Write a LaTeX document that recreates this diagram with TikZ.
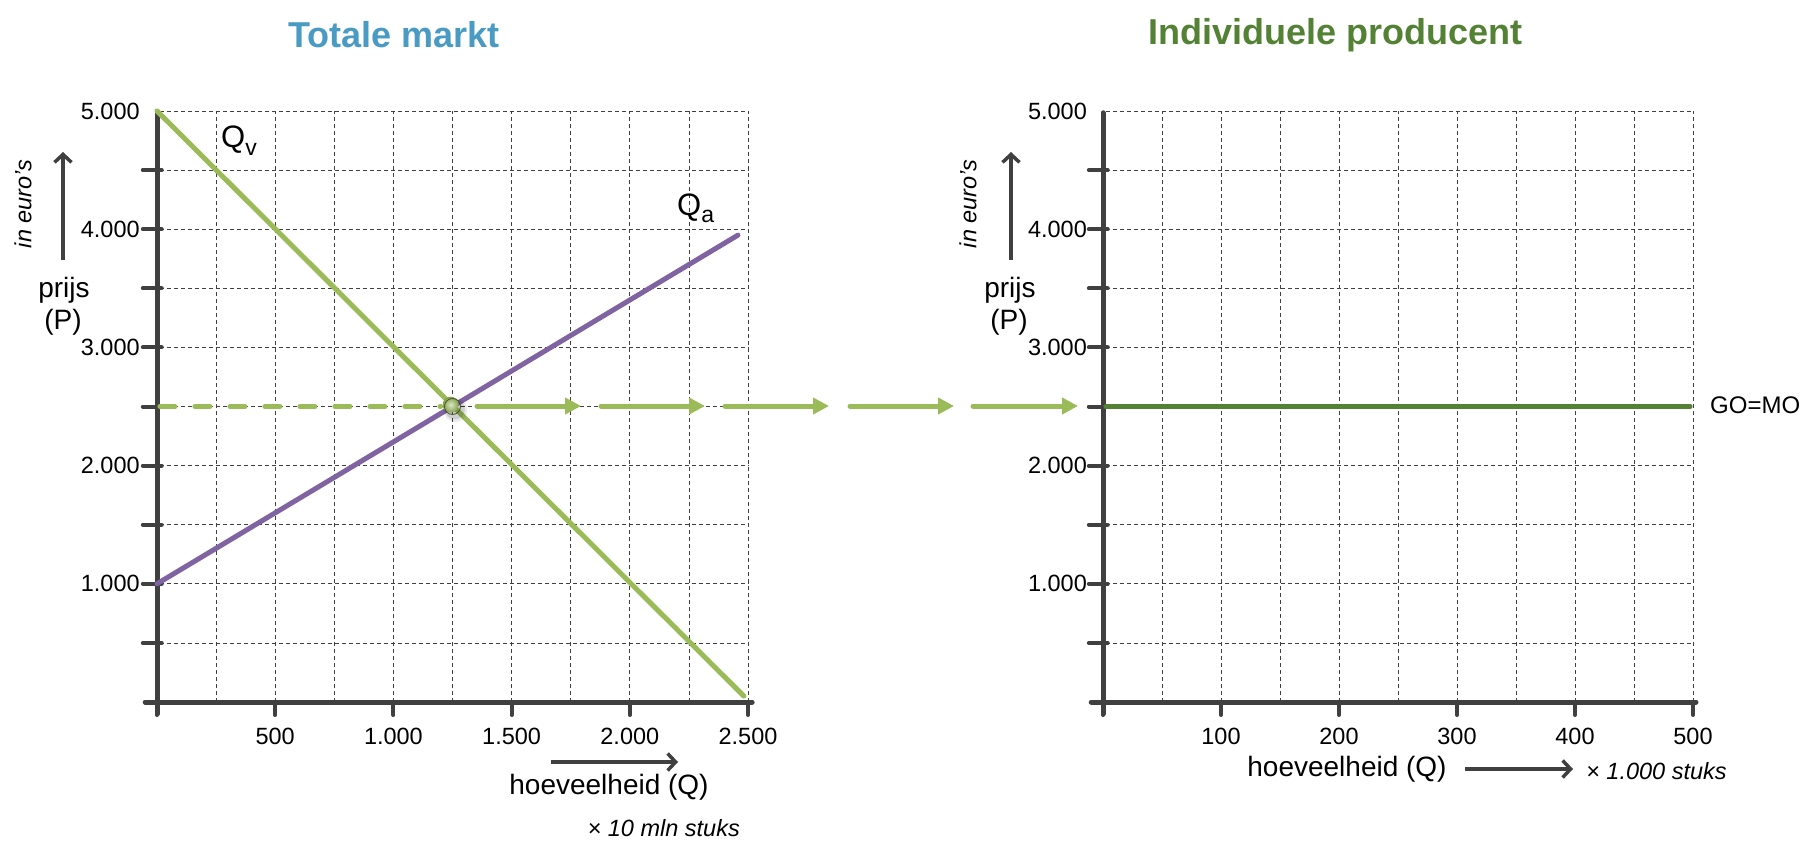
\documentclass[tikz,border=0pt]{standalone}
\usepackage{fontspec}
\setmainfont{Liberation Sans}
\usetikzlibrary{arrows.meta}
\definecolor{axisgray}{HTML}{404040}
\definecolor{lgreen}{HTML}{9BBB59}
\definecolor{purp}{HTML}{8064A2}
\definecolor{dgreen}{HTML}{548235}
\definecolor{tblue}{HTML}{4A9BC3}
\newcommand\fsz[1]{\fontsize{#1}{#1}\selectfont}
\begin{document}
\begin{tikzpicture}[x=1pt,y=-1pt,
  gridline/.style={axisgray, line width=0.8pt, dash pattern=on 4pt off 3pt},
  axisline/.style={axisgray, line width=5pt, line cap=round},
  tickline/.style={axisgray, line width=4pt, line cap=round},
  ticklabel/.style={font=\fsz{23.5}, text=black, inner sep=0pt},
  axtitle/.style={font=\fsz{28}, text=black, inner sep=0pt},
  unitlabel/.style={font=\fsz{23.5}\itshape, text=black, inner sep=0pt},
  dirarrow/.style={axisgray, line width=3.5pt, -{Straight Barb[length=8pt,width=17pt]}},
  flowarrow/.style={lgreen, line width=5pt, line cap=round, -{Triangle[length=16pt,width=16pt]}},
  curve/.style={line width=5pt, line cap=round},
  maintitle/.style={font=\fsz{36}\bfseries, inner sep=0pt},
  qlabel/.style={font=\fsz{31}, text=black, inner sep=0pt, anchor=base west}
]
\useasboundingbox (0,0) rectangle (1820,858);
\fill[white] (0,0) rectangle (1820,858);

% titles
\node[maintitle, text=tblue] (t1) at (394,35) {Totale markt};
\node[maintitle, text=dgreen] (t2) at (1335,35) {Individuele producent};

% ---------------- left chart ----------------
\begin{scope}[shift={(157,702)}, x=59.1pt, y=59.1pt]
  \foreach \i in {1,...,10} \draw[gridline] (\i,0) -- (\i,10);
  \foreach \j in {1,...,10} \draw[gridline] (0.05,\j) -- (10,\j);
  \foreach \j in {1,...,9} \draw[tickline] (-0.24,\j) -- (0.08,\j);
  \foreach \i in {0,2,...,10} \draw[tickline] (\i,0) -- (\i,-0.22);
  \draw[axisline] (-0.2,0) -- (10.07,0);
  \draw[axisline] (0,-0.2) -- (0,9.97);
  \foreach \j/\t in {2/1.000,4/2.000,6/3.000,8/4.000,10/5.000}
    \node[ticklabel, anchor=east] (ly\j) at (-0.29,\j) {\t};
  \foreach \i/\t in {2/500,4/1.000,6/1.500,8/2.000,10/2.500}
    \node[ticklabel] (lx\i) at (\i,-0.59) {\t};
  % curves
  \draw[curve, lgreen] (0,10) -- (9.93,0.1);
  \draw[curve, purp] (0,2) -- (9.83,7.9);
  \draw[lgreen, line width=5pt, line cap=round, dash pattern=on 15pt off 20pt] (0.05,5) -- (4.8,5);
  % equilibrium dot
  \fill[black, opacity=0.08] (5.05,4.94) circle (12pt);
  \fill[black, opacity=0.12] (5.04,4.95) circle (10pt);
  \shade[inner color=lgreen!35!white, outer color=lgreen!85!black] (4.97,5.03) circle (8pt);
  \draw[lgreen!45!black, line width=0.8pt] (5,5) circle (8pt);
  \coordinate (eq) at (5,5);
\end{scope}

% left axis labels
\node[axtitle] (lp1) at (64,290) {prijs};
\node[axtitle] (lp2) at (63,322) {(P)};
\coordinate (lua) at (63,260);
\coordinate (lub) at (63,152);
\draw[dirarrow] (lua) -- (lub);
\node[unitlabel, rotate=90] (leur) at (23,204) {in euro’s};
\node[axtitle] (lq) at (609,787) {hoeveelheid (Q)};
\coordinate (lqa) at (551,762);
\coordinate (lqb) at (678,762);
\draw[dirarrow] (lqa) -- (lqb);
\node[unitlabel, anchor=east] (lunit) at (740,828) {× 10 mln stuks};
\node[qlabel] (qv) at (221,148) {Q\raisebox{-8pt}{\fsz{23}v}};
\node[qlabel] (qa) at (677,216) {Q\raisebox{-7pt}{\fsz{23}a}};

% flow arrows
\foreach \s/\e [count=\n] in {477/581, 601/705, 725/829, 850/954, 973/1078} {
  \coordinate (fa\n) at (\s,406);
  \coordinate (fb\n) at (\e,406);
  \draw[flowarrow] (fa\n) -- (fb\n);
}

% ---------------- right chart ----------------
\begin{scope}[shift={(1103,702)}, x=59pt, y=59.1pt]
  \foreach \i in {1,...,10} \draw[gridline] (\i,0) -- (\i,10);
  \foreach \j in {1,...,10} \draw[gridline] (0.05,\j) -- (10,\j);
  \foreach \j in {1,...,9} \draw[tickline] (-0.24,\j) -- (0.08,\j);
  \foreach \i in {0,2,...,10} \draw[tickline] (\i,0) -- (\i,-0.22);
  \draw[axisline] (-0.2,0) -- (10.05,0);
  \draw[axisline] (0,-0.2) -- (0,9.97);
  \foreach \j/\t in {2/1.000,4/2.000,6/3.000,8/4.000,10/5.000}
    \node[ticklabel, anchor=east] (ry\j) at (-0.27,\j) {\t};
  \foreach \i/\t in {2/100,4/200,6/300,8/400,10/500}
    \node[ticklabel] (rx\i) at (\i,-0.59) {\t};
  \draw[curve, dgreen] (0.05,5) -- (9.95,5);
  \coordinate (goend) at (9.95,5);
\end{scope}
\node[font=\fsz{24}, text=black, inner sep=0pt, anchor=west] (gomo) at (1710,405) {GO=MO};

% right axis labels
\node[axtitle] (rp1) at (1010,290) {prijs};
\node[axtitle] (rp2) at (1009,322) {(P)};
\coordinate (rua) at (1011,260);
\coordinate (rub) at (1011,152);
\draw[dirarrow] (rua) -- (rub);
\node[unitlabel, rotate=90] (reur) at (968,204) {in euro’s};
\node[axtitle] (rq) at (1347,769) {hoeveelheid (Q)};
\coordinate (rqa) at (1465,769);
\coordinate (rqb) at (1573,769);
\draw[dirarrow] (rqa) -- (rqb);
\node[unitlabel, anchor=west] (runit) at (1586,771) {× 1.000 stuks};
\end{tikzpicture}
\end{document}
